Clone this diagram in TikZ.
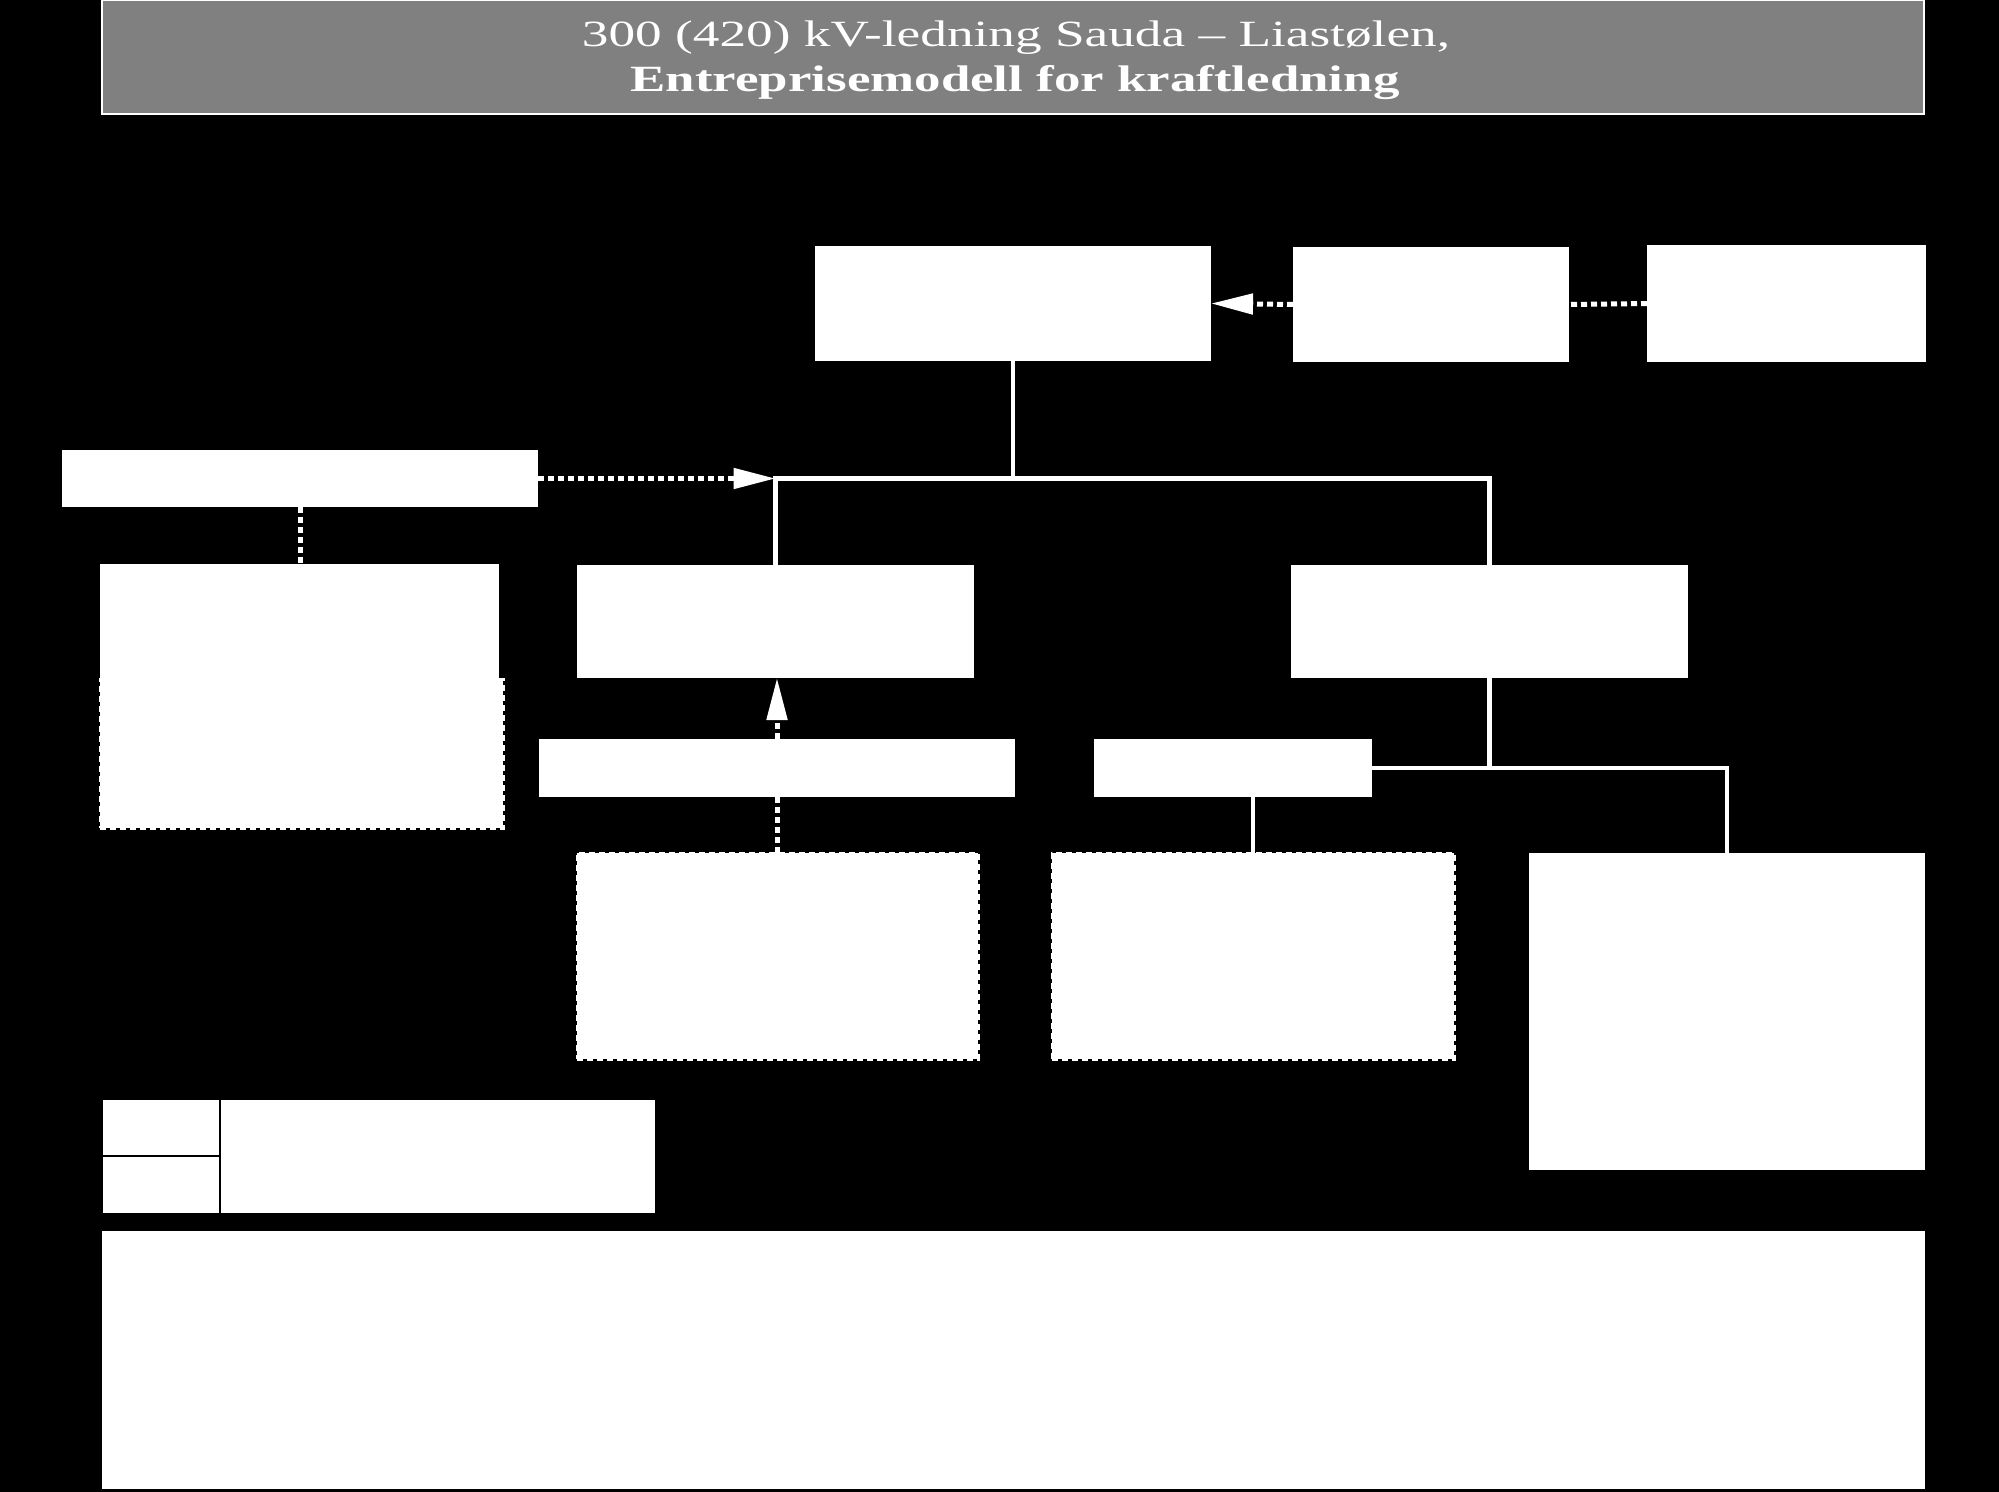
\documentclass[tikz,border=0pt]{standalone}
\usepackage{fontspec}
\usepackage{graphicx}
\setmainfont{Liberation Serif}
\usetikzlibrary{arrows.meta}
\begin{document}
\begin{tikzpicture}[x=0.5pt,y=-0.5pt,
  box/.style={rectangle,fill=white,draw=none,inner sep=0pt,outer sep=0pt},
  dbox/.style={box,draw=white,line width=1.5pt,dash pattern=on 3pt off 2pt},
  conn/.style={draw=white,line width=2.25pt},
  dconn/.style={draw=white,line width=2.5pt,dash pattern=on 3pt off 2pt},
  tip/.style={-{Triangle[length=21pt,width=10pt]}},
  cell/.style={rectangle,fill=white,draw=black,line width=1pt,inner sep=0pt,outer sep=0pt},
  ttl/.style={text=white,inner sep=0pt,anchor=base}]

\fill[black] (0,0) rectangle (1999,1492);
\useasboundingbox (0,0) rectangle (1999,1492);

% title
\node[rectangle,fill=black!50,draw=white,line width=1pt,inner sep=0pt,
      minimum width=911pt,minimum height=57pt] (title) at (1013,57) {};
\node[ttl,font=\fontsize{18.5pt}{23pt}\selectfont] (t1) at (1016,47)
  {\scalebox{1.44}[1]{300 (420) kV-ledning Sauda – Liastølen,}};
\node[ttl,font=\fontsize{18.5pt}{23pt}\selectfont\bfseries] (t2) at (1015,92)
  {\scalebox{1.43}[1]{Entreprisemodell for kraftledning}};

% top row
\node[box,minimum width=198pt,minimum height=57.5pt] (A) at (1013,303.5) {};
\node[box,minimum width=138pt,minimum height=57.5pt] (B) at (1431,304.5) {};
\node[box,minimum width=139.5pt,minimum height=58.5pt] (C) at (1786.5,303.5) {};

% left column
\node[box,minimum width=238pt,minimum height=28.5pt] (D) at (300,478.5) {};
\node[dbox,minimum width=201.5pt,minimum height=74pt] (Gb) at (301.5,754) {};
\node[box,minimum width=199.5pt,minimum height=58pt] (G) at (299.5,622) {};

% second row
\node[box,minimum width=198.5pt,minimum height=56.5pt] (E) at (775.5,621.5) {};
\node[box,minimum width=198.5pt,minimum height=56.5pt] (F) at (1489.5,621.5) {};

% third row
\node[box,minimum width=238pt,minimum height=29pt] (H) at (777,768) {};
\node[box,minimum width=139pt,minimum height=29pt] (I) at (1233,768) {};

% fourth row
\node[dbox,minimum width=200.5pt,minimum height=103pt] (K) at (777.5,956) {};
\node[dbox,minimum width=201pt,minimum height=103pt] (L) at (1253,956) {};
\node[box,minimum width=198pt,minimum height=158.5pt] (J) at (1727,1011.5) {};

% legend
\node[cell,minimum width=59pt,minimum height=28.5pt] (legA) at (161,1127.5) {};
\node[cell,minimum width=59pt,minimum height=29pt] (legB) at (161,1185) {};
\node[cell,minimum width=218pt,minimum height=57.5pt] (legC) at (438,1156.5) {};

% bottom box
\node[box,minimum width=911.5pt,minimum height=129pt] (note) at (1013.5,1360) {};

% connectors
\coordinate (jl) at (E.north |- D.east);
\draw[conn] (A.south) -- (A.south |- jl);
\draw[conn] (E.north) -- (jl) -- (F.north |- jl) -- (F.north);
\draw[dconn,tip] (D.east) -- (jl);
\draw[dconn,tip] (B.west) -- (A.east);
\draw[dconn] (C.west) -- (B.east);
\draw[dconn] (D.south) -- (D.south |- G.north);
\draw[dconn,tip] (H.north) -- (H.north |- E.south);
\draw[dconn] (H.south) -- (H.south |- K.north);
\draw[conn] (F.south) -- (F.south |- I.east);
\draw[conn] (I.east) -- (J.north |- I.east) -- (J.north);
\draw[conn] (L.north |- I.south) -- (L.north);
\end{tikzpicture}
\end{document}
